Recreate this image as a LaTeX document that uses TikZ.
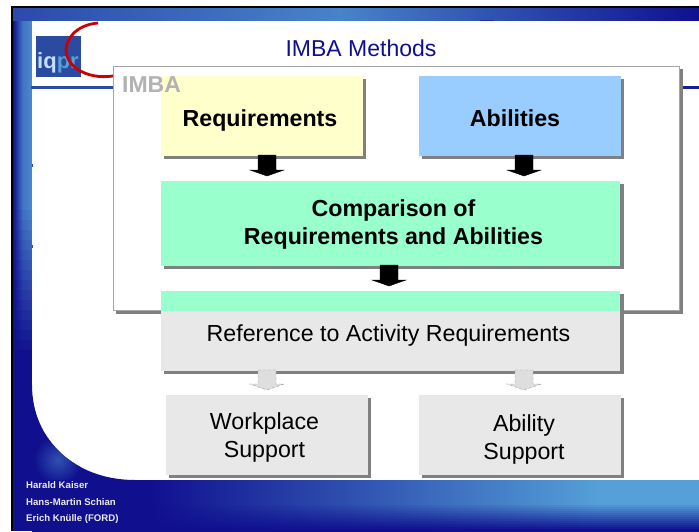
\documentclass[tikz,border=0pt]{standalone}
\usepackage{fontspec}
\setmainfont{Liberation Sans}
\usepackage{tikz}
\usetikzlibrary{calc}

\definecolor{slidedark}{HTML}{10108F}
\definecolor{slidelight}{HTML}{55A0D8}
\definecolor{logoblue}{HTML}{2B4BA0}
\definecolor{reqyellow}{HTML}{FFFFCC}
\definecolor{abilblue}{HTML}{99CCFF}
\definecolor{cmpgreen}{HTML}{99FFCC}
\definecolor{boxgrey}{HTML}{E8E8E8}
\definecolor{shadowgrey}{HTML}{808080}

\begin{document}
\begin{tikzpicture}[
    x=1pt, y=-1pt,
    block/.style={rectangle, inner sep=0pt, outer sep=0pt},
    softblock/.style={block, fill=boxgrey},
    boldtext/.style={inner sep=0pt, align=center, font=\fontsize{23.2}{28}\selectfont\bfseries},
    softtext/.style={inner sep=0pt, align=center, font=\fontsize{23.2}{28}\selectfont},
    shadowbar/.style={fill=shadowgrey},
    bigarrow/.style={to path={
        ([xshift=-9pt]\tikztostart) -- ([xshift=-9pt,yshift=11pt]\tikztotarget) -- ([xshift=-17pt,yshift=11pt]\tikztotarget)
        -- ([yshift=5pt]\tikztotarget) -- ([xshift=17pt,yshift=11pt]\tikztotarget) -- ([xshift=9pt,yshift=11pt]\tikztotarget)
        -- ([xshift=9pt]\tikztostart) -- cycle}},
    darkarrow/.style={bigarrow, fill=black},
    greyarrow/.style={bigarrow, fill=black!13, draw=black!40, densely dashed, line width=0.4pt},
    credit/.style={inner sep=0pt, anchor=west, text=white!92!black, font=\fontsize{9.6}{11}\selectfont\bfseries}
]
\useasboundingbox (0,0) rectangle (699,531);

% Slide background
\fill[black] (11,6) rectangle (699,8);
\fill[black] (11,6) rectangle (13,531);
\shade[left color=slidedark, right color=slidelight!85!slidedark, middle color=slidelight!70!slidedark] (13,8) rectangle (32,360);
\foreach \i in {0,...,15}
    \fill[slidedark, opacity=\i/15] (13,200+10*\i) rectangle (32,210+10*\i);
\fill[slidedark] (13,359) rectangle (32,531);
\fill[white] (32,20) rectangle (699,480);
\shade[left color=slidedark!60!slidelight, right color=slidelight!80!slidedark] (13,8) rectangle (340,20);
\shade[left color=slidelight!80!slidedark, right color=slidedark] (340,8) rectangle (699,20);
\fill[slidedark!80!slidelight] (480,20) rectangle (494,21);
\fill[slidedark!60!slidelight] (32,164) rectangle (33,167);
\fill[slidedark!60!slidelight] (32,245) rectangle (33,248);
\fill[slidedark] (32,385) .. controls (32,440) and (75,480) .. (135,480) -- (150,480) -- (150,534) -- (32,534) -- cycle;
\begin{scope}
\clip (32,385) .. controls (32,440) and (75,480) .. (135,480) -- (32,480) -- cycle;
\shade[inner color=slidelight!45!slidedark, outer color=slidedark] (58,460) circle (24);
\end{scope}
\shade[left color=slidedark, right color=slidelight] (150,480) rectangle (600,534);
\fill[slidelight] (600,480) rectangle (699,534);
\foreach \i in {0,...,13}
    \fill[slidedark, opacity=\i/13] (150,503+2*\i) rectangle (699,505+2*\i);
\fill[slidedark] (150,529) rectangle (699,534);

% Logo
\fill[logoblue] (36,36) rectangle (81,77);
\node[inner sep=0pt, font=\fontsize{22}{22}\selectfont\bfseries] (logotext) at (58,63) {\textcolor{abilblue!60!white}{iq}\textcolor{slidelight}{pr}};
\draw[red!80!black, line width=2.8pt] (98,23) .. controls (75,25) and (66,40) .. (66,50) .. controls (66,65) and (85,80) .. (113,76);
\fill[logoblue] (31,85.5) rectangle (113,88.5);
\fill[slidedark!90!slidelight] (683,85.5) rectangle (699,89);
\node[text=slidedark, inner sep=0pt, font=\fontsize{23}{28}\selectfont] (title) at (361,48) {IMBA Methods};

% Outer frame
\fill[shadowgrey] (116,69) rectangle (683,313.5);
\draw[black!35, fill=white, line width=0.8pt] (113,66) rectangle (679.5,310);

% Upper boxes
\fill[shadowbar] (164,79) rectangle (366,159);
\fill[shadowbar] (422,79) rectangle (624,159);
\fill[shadowbar] (164,184) rectangle (624,269);
\node[block, fill=reqyellow, minimum width=202pt, minimum height=80pt] (req) at (262,116) {};
\node[block, fill=abilblue, minimum width=202pt, minimum height=80pt] (abil) at (520,116) {};
\node[boldtext] (reqtext) at (260,120) {Requirements};
\node[boldtext] (abiltext) at (515,118) {Abilities};
\node[inner sep=0pt, text=black!30, font=\fontsize{23}{28}\selectfont\bfseries] (imba) at (151.5,84.5) {IMBA};
\node[block, fill=cmpgreen, minimum width=459pt, minimum height=85pt] (cmp) at (390.5,223.5) {};
\node[boldtext] (cmptext) at (393.5,224) {Comparison of\\Requirements and Abilities};

% Lower boxes
\fill[shadowbar] (164,294) rectangle (624,374);
\node[block, fill=cmpgreen, minimum width=459pt, minimum height=20pt] (band) at (390.5,301) {};
\node[softblock, minimum width=459pt, minimum height=60pt] (ref) at (390.5,341) {};
\node[softtext] (reftext) at (388.5,335) {Reference to Activity Requirements};
\fill[shadowbar] (169,398) rectangle (371,478);
\fill[shadowbar] (422,398) rectangle (624,478);
\node[softblock, minimum width=202pt, minimum height=80pt] (wplace) at (267,435) {};
\node[softblock, minimum width=202pt, minimum height=80pt] (asupport) at (520,435) {};
\node[softtext] (wplacetext) at (264.5,437) {Workplace\\Support};
\node[softtext] (asupporttext) at (524,439) {Ability\\Support};

% Arrows
\draw[darkarrow] ([xshift=5pt,yshift=1pt]req.south) to ([xshift=5pt]req.south |- cmp.north);
\draw[darkarrow] ([xshift=4pt,yshift=1pt]abil.south) to ([xshift=4pt]abil.south |- cmp.north);
\draw[darkarrow] ([xshift=-1.5pt,yshift=1pt]cmp.south) to ([xshift=-1.5pt]band.north);
\draw[greyarrow] ([yshift=1pt]ref.south -| wplace.north) to (wplace.north);
\draw[greyarrow] ([xshift=4pt,yshift=1pt]ref.south -| asupport.north) to ([xshift=4pt]asupport.north);

% Credits
\node[credit] (name1) at (26,485) {Harald Kaiser};
\node[credit] (name2) at (26,502) {Hans-Martin Schian};
\node[credit] (name3) at (26,519) {Erich Knülle (FORD)};

\end{tikzpicture}
\end{document}
